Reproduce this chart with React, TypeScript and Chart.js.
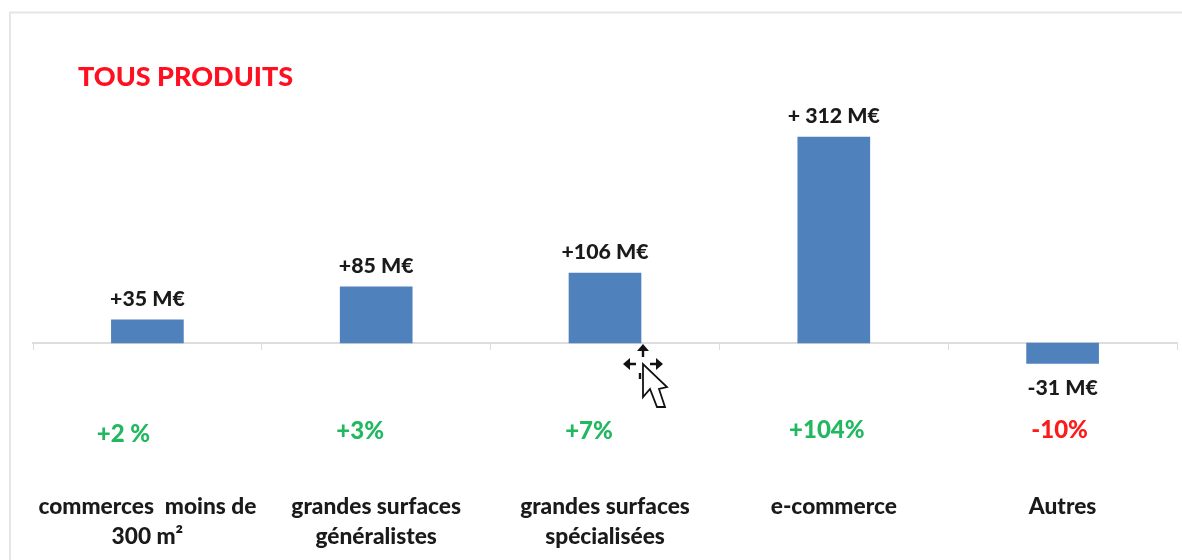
import React, { useEffect, useRef } from "react";
import { Chart, registerables } from "chart.js";

Chart.register(...registerables);

const categories: (string | string[])[] = [
  ["commerces  moins de", "300 m²"],
  ["grandes surfaces", "généralistes"],
  ["grandes surfaces", "spécialisées"],
  "e-commerce",
  "Autres",
];
const values = [35, 85, 106, 312, -31];
const valueLabels = ["+35 M€", "+85 M€", "+106 M€", "+ 312 M€", "-31 M€"];
const percentLabels = ["+2 %", "+3%", "+7%", "+104%", "-10%"];
const percentColors = ["#22b860", "#22b860", "#22b860", "#22b860", "#ff1a1a"];
const percentY = [434, 431, 431, 430, 430];
const percentShift = [-24, -16, -16, -7, -3];
const titleText = "TOUS PRODUITS";

const FONT = "Lato, Carlito, sans-serif";

const decorPlugin = {
  id: "decor",
  beforeDraw(chart: any) {
    const { ctx, width } = chart;
    ctx.save();
    ctx.strokeStyle = "#e6e6e6";
    ctx.lineWidth = 2;
    ctx.beginPath();
    ctx.moveTo(10, 560);
    ctx.lineTo(10, 12.5);
    ctx.lineTo(width, 12.5);
    ctx.stroke();
    ctx.restore();
  },
  afterDatasetsDraw(chart: any) {
    const { ctx } = chart;
    const meta = chart.getDatasetMeta(0);
    ctx.save();
    ctx.textAlign = "center";
    ctx.textBaseline = "middle";
    ctx.font = `900 21.3px ${FONT}`;
    ctx.fillStyle = "#1a1a1a";
    meta.data.forEach((bar: any, i: number) => {
      const y = values[i] >= 0 ? bar.y - 21 : bar.y + 25;
      ctx.fillText(valueLabels[i], bar.x, y);
    });
    ctx.font = `900 24px ${FONT}`;
    meta.data.forEach((bar: any, i: number) => {
      ctx.fillStyle = percentColors[i];
      ctx.fillText(percentLabels[i], bar.x + percentShift[i], percentY[i]);
    });
    ctx.textAlign = "left";
    ctx.font = `900 27px ${FONT}`;
    ctx.fillStyle = "#ff0f1f";
    ctx.fillText(titleText, 78, 77);

    // mouse cursor visible in the screenshot
    ctx.translate(643, 364);
    ctx.fillStyle = "#111";
    ctx.strokeStyle = "#111";
    ctx.lineWidth = 2.4;
    ctx.beginPath();
    ctx.moveTo(-14, 0); ctx.lineTo(-7, 0);
    ctx.moveTo(7, 0); ctx.lineTo(14, 0);
    ctx.moveTo(0, -14); ctx.lineTo(0, -7);
    ctx.moveTo(-3, 15); ctx.lineTo(-3, 9);
    ctx.stroke();
    const arrow = (dx: number, dy: number) => {
      ctx.beginPath();
      ctx.moveTo(dx * 20, dy * 20);
      ctx.lineTo(dx * 13 + dy * 6, dy * 13 + dx * 6);
      ctx.lineTo(dx * 13 - dy * 6, dy * 13 - dx * 6);
      ctx.closePath();
      ctx.fill();
    };
    arrow(1, 0); arrow(-1, 0); arrow(0, -1);
    ctx.fillStyle = "#fff";
    ctx.lineWidth = 1.8;
    ctx.beginPath();
    ctx.moveTo(0, 0);
    ctx.lineTo(0, 33);
    ctx.lineTo(7, 25);
    ctx.lineTo(14, 43);
    ctx.lineTo(22, 43);
    ctx.lineTo(16, 25);
    ctx.lineTo(24, 23);
    ctx.closePath();
    ctx.fill();
    ctx.stroke();
    ctx.restore();
  },
};

export default function App() {
  const ref = useRef<HTMLCanvasElement>(null);
  useEffect(() => {
    const chart = new Chart(ref.current!, {
      type: "bar",
      data: {
        labels: categories as any,
        datasets: [
          {
            data: values,
            backgroundColor: "#4f81bd",
            barThickness: 72,
          },
        ],
      },
      options: {
        animation: false,
        responsive: false,
        devicePixelRatio: 1,
        layout: { padding: { left: 33, right: 5, top: 79, bottom: 151 } },
        plugins: { legend: { display: false }, tooltip: { enabled: false } },
        scales: {
          y: { display: false, min: -100, max: 400 },
          x: {
            position: { y: 0 } as any,
            afterFit(scale: any) {
              scale.paddingLeft = 0;
              scale.paddingRight = 0;
            },
            grid: {
              drawOnChartArea: false,
              drawTicks: true,
              tickLength: 6,
              color: "#dddddd",
              offset: true,
            },
            border: { color: "#dddddd", width: 2 },
            ticks: {
              padding: 143,
              maxRotation: 0,
              autoSkip: false,
              color: "#1a1a1a",
              font: { family: FONT, size: 22.7, weight: "900", lineHeight: 1.31 },
            },
          },
        },
      },
      plugins: [decorPlugin],
    });
    return () => chart.destroy();
  }, []);
  return (
    <div style={{ position: "fixed", left: 0, top: 0, width: 1182, height: 560, background: "#fff" }}>
      <canvas ref={ref} width={1182} height={560} style={{ display: "block", filter: "blur(0.7px)" }} />
    </div>
  );
}
